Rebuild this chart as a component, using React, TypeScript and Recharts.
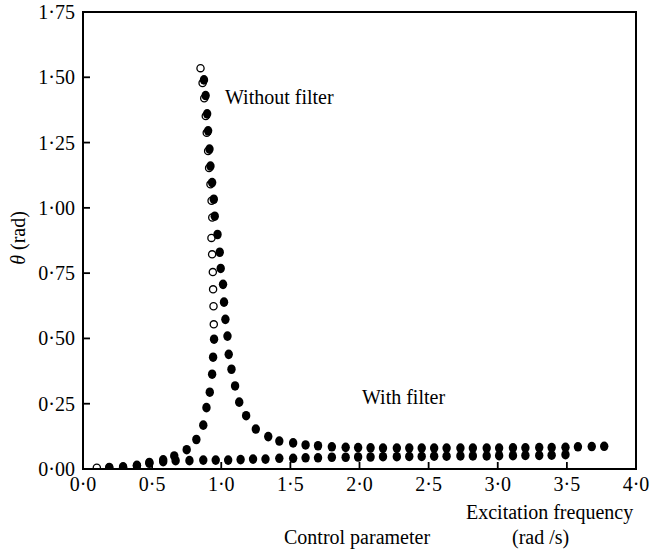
import { ScatterChart, Scatter, XAxis, YAxis, ReferenceArea } from "recharts";

// open circles: upper branch of the resonance (without filter)
const openX = [0.1, 0.85, 0.865, 0.877, 0.888, 0.895, 0.905, 0.912, 0.922, 0.93, 0.935, 0.929, 0.934, 0.939, 0.941, 0.944, 0.946];
const openY = [0.005, 1.535, 1.478, 1.42, 1.352, 1.288, 1.218, 1.153, 1.09, 1.027, 0.963, 0.885, 0.822, 0.754, 0.688, 0.623, 0.554];

// filled circles: without filter
const noFilterX = [
  0.19, 0.29, 0.39, 0.48, 0.58, 0.66, 0.75, 0.82, 0.87, 0.893, 0.917, 0.934, 0.941, 0.948,
  0.875, 0.887, 0.898, 0.905, 0.915, 0.922, 0.934, 0.946, 0.953, 0.973,
  0.989, 0.996, 1.013, 1.02, 1.03, 1.045, 1.054, 1.074, 1.1, 1.13, 1.18, 1.25, 1.34, 1.42,
  1.52, 1.61, 1.7, 1.8, 1.9, 1.99, 2.08, 2.17, 2.27, 2.36, 2.45, 2.54, 2.63, 2.73, 2.82,
  2.92, 3.01, 3.11, 3.2, 3.3, 3.39, 3.49, 3.58, 3.68, 3.77,
];
const noFilterY = [
  0.006, 0.008, 0.014, 0.025, 0.035, 0.05, 0.074, 0.113, 0.168, 0.235, 0.294, 0.363, 0.428, 0.497,
  1.49, 1.43, 1.36, 1.295, 1.225, 1.16, 1.097, 1.033, 0.968, 0.898,
  0.83, 0.768, 0.707, 0.639, 0.573, 0.509, 0.439, 0.382, 0.318, 0.256, 0.204, 0.153, 0.124, 0.107,
  0.1, 0.092, 0.089, 0.085, 0.083, 0.082, 0.081, 0.08, 0.08, 0.08, 0.08, 0.08, 0.08, 0.08, 0.08,
  0.08, 0.08, 0.081, 0.081, 0.082, 0.082, 0.083, 0.085, 0.086, 0.087,
];

// filled circles: with filter
const filterX = [
  0.19, 0.29, 0.39, 0.48, 0.58, 0.67, 0.77, 0.87, 0.96, 1.05, 1.14, 1.23, 1.32, 1.42, 1.52,
  1.61, 1.7, 1.8, 1.9, 1.99, 2.08, 2.17, 2.27, 2.36, 2.45, 2.54, 2.63, 2.73, 2.82, 2.92,
  3.01, 3.11, 3.2, 3.3, 3.39, 3.49,
];
const filterY = [
  0.004, 0.006, 0.012, 0.022, 0.028, 0.032, 0.032, 0.034, 0.034, 0.034, 0.036, 0.038, 0.038,
  0.041, 0.041, 0.043, 0.043, 0.045, 0.045, 0.046, 0.046, 0.047, 0.047, 0.048, 0.048, 0.049,
  0.049, 0.05, 0.05, 0.05, 0.051, 0.051, 0.052, 0.052, 0.053, 0.055,
];

const xTicks = [0, 0.5, 1, 1.5, 2, 2.5, 3, 3.5, 4];
const yTicks = [0, 0.25, 0.5, 0.75, 1, 1.25, 1.5, 1.75];

const zip = (xs: number[], ys: number[]) => xs.map((x, i) => ({ x, y: ys[i] }));
const openData = zip(openX, openY);
const noFilterData = zip(noFilterX, noFilterY);
const filterData = zip(filterX, filterY);

const FONT = "'Liberation Serif', 'Times New Roman', serif";
const dot = (s: string) => s.replace(".", "\u00b7");

const XTick = (props: any) => {
  const { x, y, payload } = props;
  return (
    <g>
      <line x1={x} y1={y} x2={x} y2={y - 7} stroke="#000" strokeWidth={1.8} />
      <text x={x} y={y + 22} textAnchor="middle" fontFamily={FONT} fontSize={20} fill="#000">
        {dot(payload.value.toFixed(1))}
      </text>
    </g>
  );
};

const YTick = (props: any) => {
  const { x, y, payload } = props;
  return (
    <g>
      <line x1={x} y1={y} x2={x + 7} y2={y} stroke="#000" strokeWidth={1.8} />
      <text x={x - 8} y={y + 7} textAnchor="end" fontFamily={FONT} fontSize={20} fill="#000">
        {dot(payload.value.toFixed(2))}
      </text>
    </g>
  );
};

const OpenDot = (p: any) => (
  <circle cx={p.cx} cy={p.cy} r={3.6} fill="none" stroke="#000" strokeWidth={1.3} />
);
const FilledDot = (p: any) => <ellipse cx={p.cx} cy={p.cy} rx={4.2} ry={4.8} fill="#000" />;

const txt: React.CSSProperties = {
  position: "absolute",
  fontFamily: FONT,
  fontSize: 20,
  color: "#000",
  whiteSpace: "nowrap",
  lineHeight: 1,
};

export default function App() {
  return (
    <div style={{ position: "absolute", left: 0, top: 0, width: 650, height: 550, background: "#fff" }}>
      <ScatterChart width={650} height={550} margin={{ top: 12, right: 14, left: 23, bottom: 51 }}>
        <XAxis
          type="number"
          dataKey="x"
          domain={[0, 4]}
          ticks={xTicks}
          tickSize={0}
          tickMargin={0}
          tick={<XTick />}
          height={30}
          stroke="#000"
          strokeWidth={2}
          allowDataOverflow
        />
        <YAxis
          type="number"
          dataKey="y"
          domain={[0, 1.75]}
          ticks={yTicks}
          tickSize={0}
          tickMargin={0}
          tick={<YTick />}
          width={60}
          stroke="#000"
          strokeWidth={2}
          allowDataOverflow
        />
        <ReferenceArea x1={0} x2={4} y1={0} y2={1.75} fill="none" stroke="#000" strokeWidth={2} />
        <Scatter data={openData} shape={OpenDot} isAnimationActive={false} />
        <Scatter data={filterData} shape={FilledDot} isAnimationActive={false} />
        <Scatter data={noFilterData} shape={FilledDot} isAnimationActive={false} />
      </ScatterChart>
      <div style={{ ...txt, left: 225, top: 87 }}>Without filter</div>
      <div style={{ ...txt, left: 362, top: 387 }}>With filter</div>
      <div style={{ ...txt, left: 466, top: 502 }}>Excitation frequency</div>
      <div style={{ ...txt, left: 284, top: 527 }}>Control parameter</div>
      <div style={{ ...txt, left: 512, top: 527 }}>(rad /s)</div>
      <div
        style={{
          ...txt,
          left: 18,
          top: 238,
          transform: "translate(-50%, -50%) rotate(-90deg)",
        }}
      >
        <i>θ</i> (rad)
      </div>
    </div>
  );
}
